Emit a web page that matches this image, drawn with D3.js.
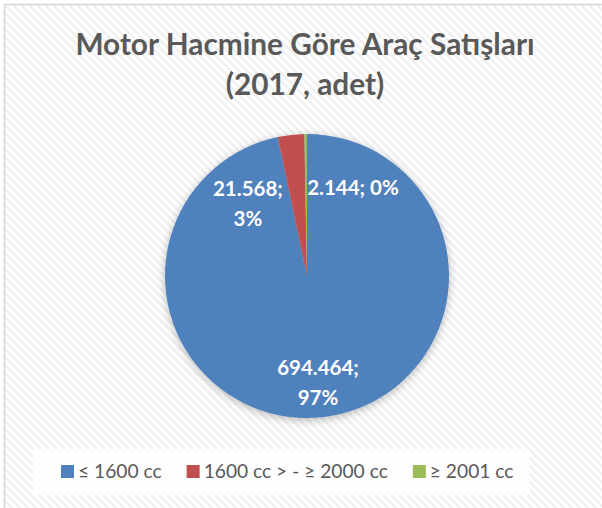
<!DOCTYPE html>
<html>
<head>
<meta charset="utf-8">
<script src="https://cdnjs.cloudflare.com/ajax/libs/d3/7.8.5/d3.min.js"></script>
<style>
  html, body { margin: 0; padding: 0; background: #fff; }
  svg { display: block; }
  text { font-family: Lato, "Open Sans", sans-serif; }
</style>
</head>
<body>
<script>
// chart data
var titleLines = ['Motor Hacmine Göre Araç Satışları', '(2017, adet)'];
var categories = ['≤ 1600 cc', '1600 cc > - ≥ 2000 cc', '≥ 2001 cc'];
var sales = [694464, 21568, 2144];
var percentLabels = ['97%', '3%', '0%'];
var colors = ['#4f81bd', '#c0504d', '#9bbb59'];

var W = 602, H = 508;
var cx = 307, cy = 276, R = 142;

// where each data label sits, relative to its slice (Excel "best fit" look)
var labelRadius = [0.75, 0.66, 0.70];
var labelNudge = [0, -32.6, 28.1]; // degrees
var labelTwoLines = [true, true, false];

var svg = d3.select('body').append('svg')
  .attr('width', W)
  .attr('height', H);

var defs = svg.append('defs');

var pat = defs.append('pattern')
  .attr('id', 'diag')
  .attr('width', 8)
  .attr('height', 8)
  .attr('patternUnits', 'userSpaceOnUse');
pat.append('rect').attr('width', 8).attr('height', 8).attr('fill', '#ffffff');
pat.append('path')
  .attr('d', 'M0,0 L8,8 M-4,4 L4,12 M4,-4 L12,4')
  .attr('stroke', '#efefef')
  .attr('stroke-width', 2.2);

var shadow = defs.append('filter')
  .attr('id', 'shadow')
  .attr('x', '-20%').attr('y', '-20%')
  .attr('width', '140%').attr('height', '140%');
shadow.append('feDropShadow')
  .attr('dx', 0).attr('dy', 2)
  .attr('stdDeviation', 4)
  .attr('flood-color', '#000')
  .attr('flood-opacity', 0.28);

// chart area with patterned fill
svg.append('rect')
  .attr('x', 4.5).attr('y', 4.5)
  .attr('width', W + 10).attr('height', H + 10)
  .attr('fill', 'url(#diag)')
  .attr('stroke', '#d4d4d4')
  .attr('stroke-width', 1.5);

// title
svg.append('g').selectAll('text')
  .data(titleLines)
  .enter().append('text')
  .attr('x', 305)
  .attr('y', function(d, i) { return 55 + i * 40; })
  .attr('text-anchor', 'middle')
  .attr('font-size', 29.8)
  .attr('font-weight', 'bold')
  .attr('fill', '#595959')
  .text(function(d) { return d; });

// pie
var pie = d3.pie().sort(null).value(function(d) { return d; });
var arcs = pie(sales);
var arc = d3.arc().innerRadius(0).outerRadius(R);

var pieG = svg.append('g')
  .attr('transform', 'translate(' + cx + ',' + cy + ')');

pieG.append('g')
  .attr('filter', 'url(#shadow)')
  .selectAll('path')
  .data(arcs)
  .enter().append('path')
  .attr('d', arc)
  .attr('fill', function(d, i) { return colors[i]; });

var fmt = d3.formatLocale({ decimal: ',', thousands: '.', grouping: [3] }).format(',d');

var labels = pieG.append('g').selectAll('text')
  .data(arcs)
  .enter().append('text')
  .attr('text-anchor', 'middle')
  .attr('font-size', 20.5)
  .attr('font-weight', 'bold')
  .attr('fill', '#ffffff')
  .attr('transform', function(d, i) {
    var a = (d.startAngle + d.endAngle) / 2 + labelNudge[i] * Math.PI / 180;
    var r = R * labelRadius[i];
    return 'translate(' + (r * Math.sin(a)) + ',' + (-r * Math.cos(a)) + ')';
  });

labels.each(function(d, i) {
  var t = d3.select(this);
  if (labelTwoLines[i]) {
    t.append('tspan').attr('x', 0).attr('y', -7).text(fmt(sales[i]) + ';');
    t.append('tspan').attr('x', 0).attr('y', 23).text(percentLabels[i]);
  } else {
    t.append('tspan').attr('x', 0).attr('y', 7).text(fmt(sales[i]) + '; ' + percentLabels[i]);
  }
});

// legend
var legend = svg.append('g');
legend.append('rect')
  .attr('x', 33).attr('y', 449)
  .attr('width', 497).attr('height', 46)
  .attr('fill', '#ffffff')
  .attr('fill-opacity', 0.85);

var lx = 61;
categories.forEach(function(c, i) {
  legend.append('rect')
    .attr('x', lx).attr('y', 465)
    .attr('width', 13).attr('height', 13)
    .attr('fill', colors[i]);
  var t = legend.append('text')
    .attr('x', lx + 17).attr('y', 478)
    .attr('font-size', 19.2)
    .attr('fill', '#595959')
    .text(c);
  lx += 17 + t.node().getComputedTextLength() + 25;
});
</script>
</body>
</html>
